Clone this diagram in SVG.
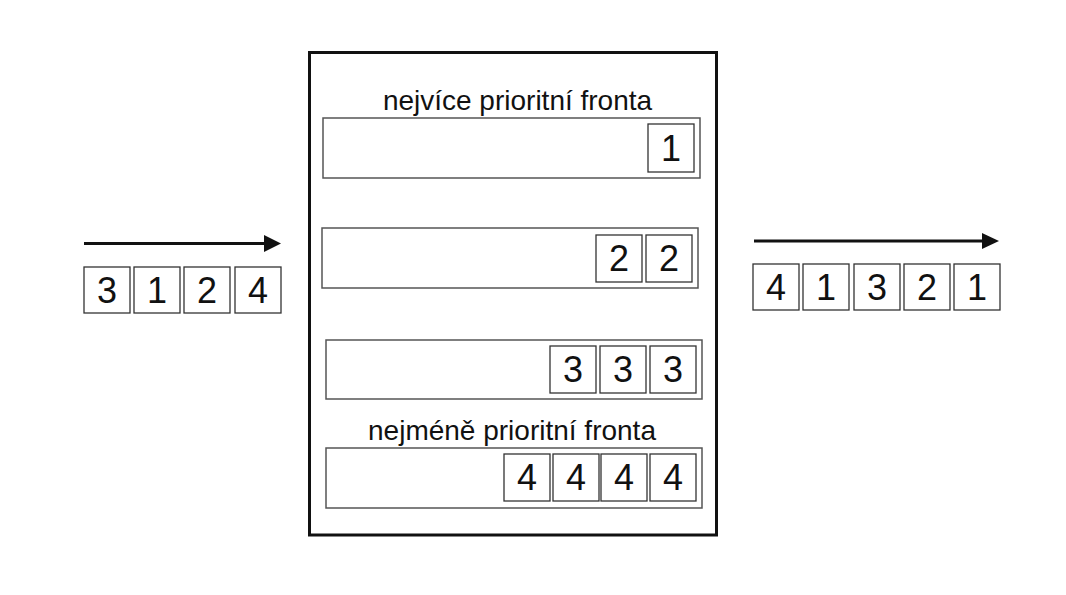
<svg xmlns="http://www.w3.org/2000/svg" width="1066" height="595" viewBox="0 0 1066 595">
<style>
.frame{fill:none;stroke:#111;stroke-width:3}
.q{fill:#fff;stroke:#555;stroke-width:1.5}
.b{fill:#fff;stroke:#333;stroke-width:1.3}
.d{font-family:"Liberation Sans",Arial,sans-serif;font-size:36px;fill:#111;text-anchor:middle}
.lbl{font-family:"Liberation Sans",Arial,sans-serif;font-size:28px;fill:#111;text-anchor:middle}
.arr{stroke:#111;stroke-width:3;fill:none}
</style>
<rect width="1066" height="595" fill="#fff"/>
<g id="connectors">
<line class="arr" x1="84" y1="243.5" x2="266" y2="243.5"/>
<polygon points="264,235 281,243.5 264,252" fill="#111"/>
<line class="arr" x1="754" y1="241" x2="984" y2="241"/>
<polygon points="982,233 999,241 982,249" fill="#111"/>
</g>
<g id="input">
<rect class="b" x="84" y="267" width="46" height="46"/><text class="d" x="107" y="303">3</text>
<rect class="b" x="134" y="267" width="46" height="46"/><text class="d" x="157" y="303">1</text>
<rect class="b" x="184" y="267" width="46" height="46"/><text class="d" x="207" y="303">2</text>
<rect class="b" x="235" y="267" width="46" height="46"/><text class="d" x="258" y="303">4</text>
</g>
<g id="scheduler">
<rect class="frame" x="309.5" y="52.5" width="407" height="482.5"/>
</g>
<g id="queue1">
<text class="lbl" x="517.5" y="110">nejvíce prioritní fronta</text>
<rect class="q" x="323" y="118" width="377" height="60"/>
<rect class="b" x="648" y="124" width="46" height="48"/><text class="d" x="671" y="161">1</text>
</g>
<g id="queue2">
<rect class="q" x="322" y="228" width="376" height="60"/>
<rect class="b" x="596" y="235" width="46" height="47"/><text class="d" x="619" y="271">2</text>
<rect class="b" x="646" y="235" width="46" height="47"/><text class="d" x="669" y="271">2</text>
</g>
<g id="queue3">
<rect class="q" x="326" y="340" width="376" height="59"/>
<rect class="b" x="550" y="346" width="46" height="47"/><text class="d" x="573" y="382">3</text>
<rect class="b" x="600" y="346" width="46" height="47"/><text class="d" x="623" y="382">3</text>
<rect class="b" x="650" y="346" width="46" height="47"/><text class="d" x="673" y="382">3</text>
</g>
<g id="queue4">
<text class="lbl" x="512" y="440">nejméně prioritní fronta</text>
<rect class="q" x="326" y="448" width="376" height="60"/>
<rect class="b" x="504" y="454" width="46" height="47"/><text class="d" x="527" y="490">4</text>
<rect class="b" x="553" y="454" width="46" height="47"/><text class="d" x="576" y="490">4</text>
<rect class="b" x="601" y="454" width="46" height="47"/><text class="d" x="624" y="490">4</text>
<rect class="b" x="650" y="454" width="46" height="47"/><text class="d" x="673" y="490">4</text>
</g>
<g id="output">
<rect class="b" x="753" y="264" width="46" height="46"/><text class="d" x="776" y="300">4</text>
<rect class="b" x="803" y="264" width="46" height="46"/><text class="d" x="826" y="300">1</text>
<rect class="b" x="854" y="264" width="46" height="46"/><text class="d" x="877" y="300">3</text>
<rect class="b" x="904" y="264" width="46" height="46"/><text class="d" x="927" y="300">2</text>
<rect class="b" x="954" y="264" width="46" height="46"/><text class="d" x="977" y="300">1</text>
</g>
</svg>
